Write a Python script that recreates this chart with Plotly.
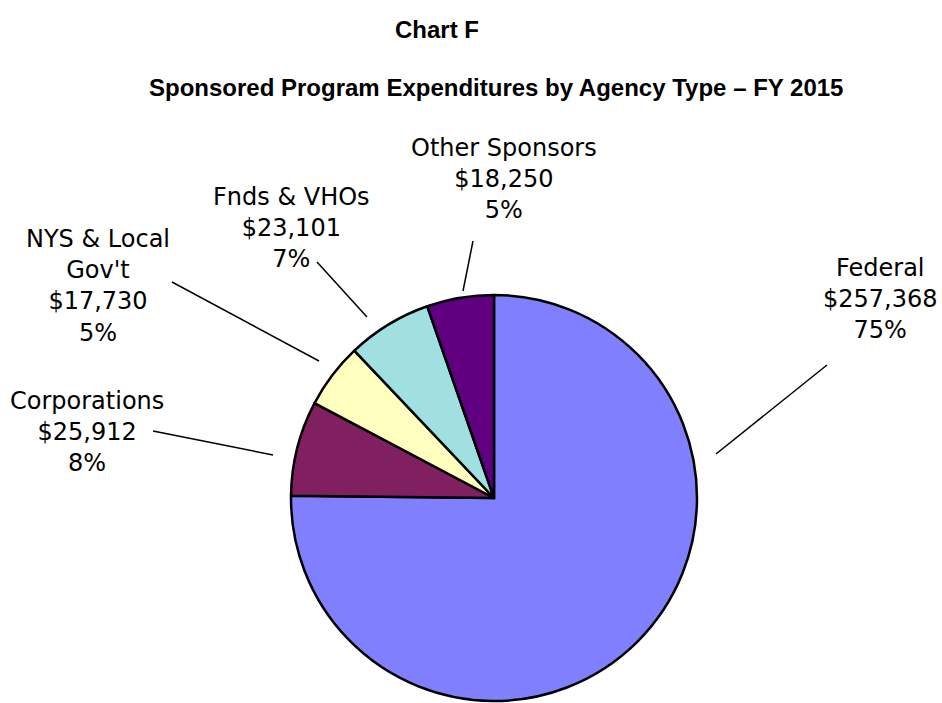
import plotly.graph_objects as go

# ---- data ----
categories = ["Federal", "Corporations", "NYS & Local Gov't", "Fnds & VHOs", "Other Sponsors"]
label_names = ["Federal", "Corporations", "NYS & Local<br>Gov't", "Fnds & VHOs", "Other Sponsors"]
values = [257368, 25912, 17730, 23101, 18250]
colors = ["#8080FF", "#802060", "#FFFFC0", "#A0E0E0", "#600080"]

title1 = "Chart F"
title2 = "Sponsored Program Expenditures by Agency Type \u2013 FY 2015"

# ---- layout (pixel geometry, in screen px) ----
W, H = 942, 703
pie_cx, pie_cy, pie_r = 494, 498, 203
# label block centres (px)
label_pos = [(880, 299), (87, 432), (98, 286), (291, 228), (504, 179)]
# leader lines (outer end, inner end) in px
leaders = [((827, 365), (716, 454)),
           ((153, 431), (273, 455)),
           ((172, 282), (319, 361)),
           ((317, 262), (367, 317)),
           ((473, 241), (463, 291))]


def px(x):
    return x / W


def py(y):
    return 1 - y / H


total = sum(values)

fig = go.Figure(go.Pie(
    labels=categories,
    values=values,
    sort=False,
    direction="clockwise",
    rotation=0,
    marker=dict(colors=colors, line=dict(color="black", width=2.5)),
    textinfo="none",
    hoverinfo="label+value+percent",
    showlegend=False,
    domain=dict(x=[px(pie_cx - pie_r), px(pie_cx + pie_r)],
                y=[py(pie_cy + pie_r), py(pie_cy - pie_r)]),
))

annotations = []
for name, v, (lx, ly) in zip(label_names, values, label_pos):
    pct = round(v / total * 100)
    annotations.append(dict(
        x=px(lx), y=py(ly), xref="paper", yref="paper",
        text=f"{name}<br>${v:,}<br>{pct}%",
        showarrow=False, align="center", xanchor="center", yanchor="middle",
        font=dict(family="DejaVu Sans", size=24, color="black"),
    ))

annotations.append(dict(
    x=px(437), y=py(30), xref="paper", yref="paper", text=title1,
    showarrow=False, xanchor="center", yanchor="middle",
    font=dict(family="Liberation Sans", size=24, color="black", weight="bold"),
))
annotations.append(dict(
    x=px(496), y=py(88), xref="paper", yref="paper", text=title2,
    showarrow=False, xanchor="center", yanchor="middle",
    font=dict(family="Liberation Sans", size=24, color="black", weight="bold"),
))

shapes = []
for (x0, y0), (x1, y1) in leaders:
    shapes.append(dict(type="line", xref="paper", yref="paper",
                       x0=px(x0), y0=py(y0), x1=px(x1), y1=py(y1),
                       line=dict(color="black", width=1.5)))

fig.update_layout(
    width=W, height=H,
    margin=dict(l=0, r=0, t=0, b=0),
    paper_bgcolor="white", plot_bgcolor="white",
    annotations=annotations, shapes=shapes,
)

fig.write_html(
    "out.html",
    config={"displayModeBar": False},
    post_script="document.body.style.margin='0';document.body.style.overflow='hidden';",
)
